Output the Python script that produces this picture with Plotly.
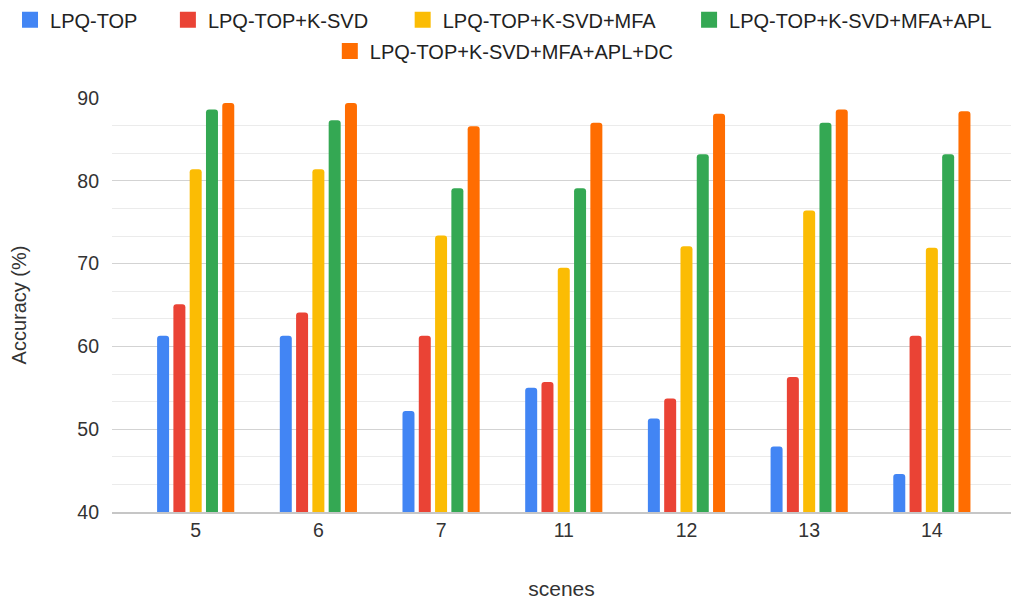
import plotly.graph_objects as go

scenes = ["5", "6", "7", "11", "12", "13", "14"]
series_names = [
    "LPQ-TOP",
    "LPQ-TOP+K-SVD",
    "LPQ-TOP+K-SVD+MFA",
    "LPQ-TOP+K-SVD+MFA+APL",
    "LPQ-TOP+K-SVD+MFA+APL+DC",
]
lpq_top = [61.3, 61.3, 52.2, 55.0, 51.3, 47.9, 44.6]
lpq_ksvd = [65.1, 64.1, 61.3, 55.7, 53.7, 56.3, 61.3]
lpq_ksvd_mfa = [81.4, 81.4, 73.4, 69.5, 72.1, 76.4, 71.9]
lpq_ksvd_mfa_apl = [88.6, 87.3, 79.1, 79.1, 83.2, 87.0, 83.2]
lpq_ksvd_mfa_apl_dc = [89.4, 89.4, 86.6, 87.0, 88.1, 88.6, 88.4]
y_ticks = [40, 50, 60, 70, 80, 90]

colors = ["#4285F4", "#EA4335", "#FBBC04", "#34A853", "#FF6D01"]
all_values = [lpq_top, lpq_ksvd, lpq_ksvd_mfa, lpq_ksvd_mfa_apl, lpq_ksvd_mfa_apl_dc]

# legend placement (container fractions): left x, centre y
legend_pos = [(0.0099, 0.967), (0.1659, 0.967), (0.3979, 0.967), (0.6809, 0.967), (0.3259, 0.915)]

font_family = "Liberation Sans, Arial, sans-serif"

fig = go.Figure()
for i, (name, vals, col) in enumerate(zip(series_names, all_values, colors)):
    fig.add_trace(go.Bar(
        x=scenes, y=vals, name=name, marker_color=col,
        marker_line_width=0, showlegend=False,
    ))
for i, (name, col) in enumerate(zip(series_names, colors)):
    lg = "legend" if i == 0 else f"legend{i + 1}"
    fig.add_trace(go.Scatter(
        x=[None], y=[None], mode="markers", name=name,
        marker=dict(symbol="square", size=16, color=col),
        legend=lg, showlegend=True, hoverinfo="skip",
    ))

legends = {}
for i, (lx, ly) in enumerate(legend_pos):
    key = "legend" if i == 0 else f"legend{i + 1}"
    legends[key] = dict(
        orientation="h", xref="container", yref="container",
        x=lx, xanchor="left", y=ly, yanchor="middle",
        font=dict(family=font_family, size=20, color="#222222"),
        bgcolor="rgba(0,0,0,0)", itemclick=False, itemdoubleclick=False,
        borderwidth=0,
    )

fig.update_layout(
    width=1012, height=600,
    margin=dict(l=112, r=1, t=98, b=88, autoexpand=False),
    paper_bgcolor="white", plot_bgcolor="white",
    barmode="group", bargap=0.336, bargroupgap=0.264,
    barcornerradius=3,
    font=dict(family=font_family, color="#333333"),
    xaxis=dict(
        type="category", range=[-0.682, 6.645], automargin=False,
        showgrid=False, showline=True, linecolor="#c6c6c6", linewidth=1.5,
        ticks="", tickfont=dict(size=19.5, color="#333333"),
        title=dict(text="scenes", font=dict(size=21, color="#333333"), standoff=43),
        fixedrange=True,
    ),
    yaxis=dict(
        range=[40, 90], tickvals=y_ticks, automargin=False,
        showgrid=True, gridcolor="#d3d3d3", gridwidth=1,
        zeroline=False, showline=False, ticks="",
        ticklabelstandoff=12,
        tickfont=dict(size=19.5, color="#333333"),
        minor=dict(dtick=10 / 3, showgrid=True, gridcolor="#ebebeb", gridwidth=1),
        title=dict(text="Accuracy (%)", font=dict(size=20, color="#333333"), standoff=45),
        fixedrange=True,
    ),
    **legends,
)

fig.write_html(
    "out.html",
    config={"displayModeBar": False},
    post_script="document.body.style.margin='0';document.body.style.padding='0';",
)
